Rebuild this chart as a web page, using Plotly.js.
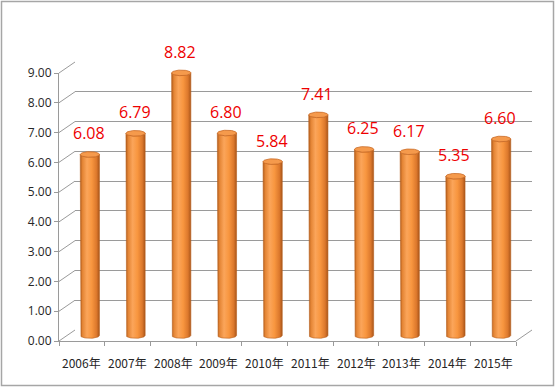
<!DOCTYPE html>
<html><head><meta charset="utf-8">
<script src="https://cdn.plot.ly/plotly-3.0.1.min.js"></script>
<style>html,body{margin:0;padding:0;background:#fff}</style>
</head><body><div id="chart" style="width:556px;height:388px"></div>
<script>
const categories = ['2006年','2007年','2008年','2009年','2010年','2011年','2012年','2013年','2014年','2015年'];
const values = [6.08, 6.79, 8.82, 6.80, 5.84, 7.41, 6.25, 6.17, 5.35, 6.60];
const yTicks = [0,1,2,3,4,5,6,7,8,9];

const W = 556, H = 388;
const FX0 = 59, FX1 = 516, FY0 = 341, FY9 = 73;   // front plane
const DX = 16, DY = 11;                            // depth offset
const K = (FY0 - FY9) / 9;                         // px per unit
const px = x => x / W, py = y => (H - y) / H;
const GRID = '#9a9a9a';

// bar plane (middle depth)
const BY0 = FY0 - DY / 2;
const Y3MIN = -1, Y3MAX = 9.5;
const A = 0.21, B = 2.8 / K;

const traces = [];
traces.push({type:'scatter', x:categories, y:values, mode:'none', xaxis:'x', yaxis:'y', hoverinfo:'skip', showlegend:false});
traces.push({type:'scatter', x:[0], y:[0], mode:'none', xaxis:'x2', yaxis:'y2', hoverinfo:'skip', showlegend:false});

const N = 40;
values.forEach((v, i) => {
  const xs = [], ys = [];
  xs.push(i - A); ys.push(v);
  xs.push(i - A); ys.push(0);
  for (let k = 0; k <= N; k++) { const t = Math.PI + Math.PI * k / N; xs.push(i + A * Math.cos(t)); ys.push(0 + B * Math.sin(t)); }
  xs.push(i + A); ys.push(v);
  for (let k = 0; k <= N; k++) { const t = 2 * Math.PI - Math.PI * k / N; xs.push(i + A * Math.cos(t)); ys.push(v + B * Math.sin(t)); }
  traces.push({type:'scatter', x:xs, y:ys, mode:'lines', fill:'toself', line:{width:0.6, color:'#b8601c'},
    fillgradient:{type:'horizontal', colorscale:[[0,'#b25d1c'],[0.12,'#e48535'],[0.35,'#fba55a'],[0.6,'#f8963f'],[0.85,'#dc782c'],[1,'#a8551a']]},
    xaxis:'x3', yaxis:'y3', hoverinfo:'skip', showlegend:false});
  const tx = [], ty = [];
  for (let k = 0; k <= 2 * N; k++) { const t = 2 * Math.PI * k / (2 * N); tx.push(i + A * Math.cos(t)); ty.push(v + B * Math.sin(t)); }
  traces.push({type:'scatter', x:tx, y:ty, mode:'lines', fill:'toself', fillcolor:'#f59a4c', line:{width:0.8, color:'#c96a24'},
    xaxis:'x3', yaxis:'y3', hoverinfo:'skip', showlegend:false});
});

const shapes = [];
yTicks.forEach(t => {
  shapes.push({type:'line', xref:'paper', yref:'paper', x0:px(FX0), y0:py(FY0 - t * K), x1:px(FX0 + DX), y1:py(FY0 - DY - t * K), line:{color:GRID, width:1}, layer:'below'});
});
shapes.push({type:'line', xref:'paper', yref:'paper', x0:px(FX1), y0:py(FY0), x1:px(FX1 + DX), y1:py(FY0 - DY), line:{color:GRID, width:1}, layer:'below'});
shapes.push({type:'rect', xref:'paper', yref:'paper', x0:px(1.5), y0:py(385.5), x1:px(553.5), y1:py(1.5), line:{color:'#a6a6a6', width:1.5}, fillcolor:'rgba(0,0,0,0)'});

const annotations = values.map((v, i) => ({
  xref:'x3', yref:'y3', x:i, y:v, yshift:21, xshift:-1, text:v.toFixed(2), showarrow:false,
  font:{family:'Open Sans, sans-serif', size:16, color:'#ee0000'}
}));
categories.forEach(c => annotations.push({
  xref:'x', yref:'paper', x:c, y:py(362), yanchor:'middle', text:c, showarrow:false,
  font:{family:'Noto Sans CJK SC, sans-serif', size:12, color:'#262626'}
}));

const layout = {
  width:W, height:H, autosize:false, margin:{l:0, r:0, t:0, b:0},
  paper_bgcolor:'#ffffff', plot_bgcolor:'rgba(0,0,0,0)', showlegend:false,
  xaxis:{domain:[px(FX0), px(FX1)], anchor:'y', type:'category', range:[-0.5, 9.5], showgrid:false,
    showline:true, linecolor:GRID, linewidth:1, ticks:'outside', tickson:'boundaries', ticklen:4, tickcolor:GRID,
    showticklabels:false, fixedrange:true},
  yaxis:{domain:[py(FY0), py(FY9)], anchor:'x', range:[0, 9], tickvals:yTicks, tickformat:'.2f', showgrid:false,
    zeroline:false, showline:true, linecolor:GRID, linewidth:1, ticks:'outside', ticklen:4, tickcolor:GRID,
    tickfont:{family:'Open Sans, sans-serif', size:12, color:'#262626'}, fixedrange:true},
  xaxis2:{domain:[px(FX0 + DX), px(FX1 + DX)], anchor:'y2', range:[0, 1], visible:false, fixedrange:true},
  yaxis2:{domain:[py(FY0 - DY), py(FY9 - DY)], anchor:'x2', range:[-0.0001, 9.0001], tickvals:yTicks, showgrid:true,
    gridcolor:GRID, gridwidth:1, showticklabels:false, ticks:'', zeroline:false, showline:false, fixedrange:true},
  xaxis3:{domain:[px(FX0 + DX / 2), px(FX1 + DX / 2)], anchor:'y3', range:[-0.5, 9.5], visible:false, fixedrange:true},
  yaxis3:{domain:[py(BY0 - Y3MIN * K), py(BY0 - Y3MAX * K)], anchor:'x3', range:[Y3MIN, Y3MAX], visible:false, fixedrange:true},
  shapes:shapes, annotations:annotations
};

Plotly.newPlot('chart', traces, layout, {displayModeBar:false, staticPlot:true});
</script>
</body></html>
